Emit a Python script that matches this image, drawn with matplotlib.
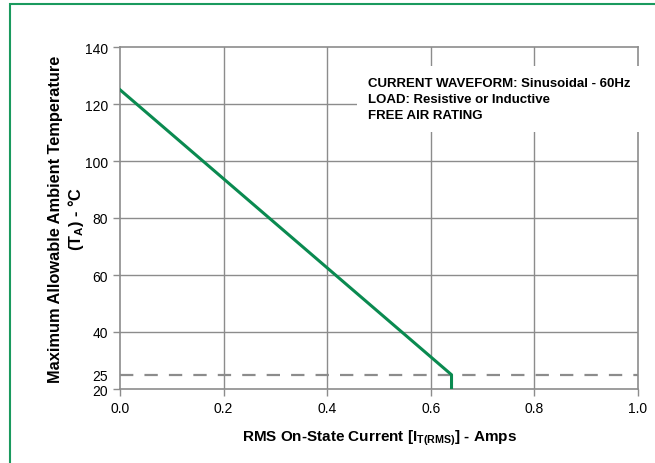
import matplotlib.pyplot as plt
from matplotlib.patches import Rectangle

# derating curve: max ambient temperature vs RMS on-state current
current = [0.0, 0.64, 0.64]
temp = [125, 25, 20]

ref_level = 25
x_ticks = [0.0, 0.2, 0.4, 0.6, 0.8, 1.0]
y_ticks = [20, 25, 40, 60, 80, 100, 120, 140]
y_grid = [40, 60, 80, 100, 120]

note_lines = ['CURRENT WAVEFORM: Sinusoidal - 60Hz',
              'LOAD: Resistive or Inductive',
              'FREE AIR RATING']

font = ['Liberation Sans', 'DejaVu Sans']
grey = '#8c8c8c'
green = '#0a8a50'


def plot_data():
  fig = plt.figure(figsize=(6.55, 4.64), dpi=100)
  ax = fig.add_axes([120 / 655, 1 - 390 / 464, 518 / 655, 342 / 464])

  # green frame, only top and left edges are visible in the picture
  fig.patches.append(Rectangle((10 / 655, -0.1), 1.0, 1.1 - 5 / 464,
                               transform=fig.transFigure, fill=False,
                               edgecolor='#1a9a5e', linewidth=1.5))

  for yv in y_grid:
    ax.axhline(yv, color=grey, linewidth=1.0, zorder=1)
  for xv in x_ticks[1:-1]:
    ax.axvline(xv, color=grey, linewidth=1.0, zorder=1)
  ax.axhline(ref_level, color=grey, linewidth=1.6, linestyle=(0, (6, 5)), zorder=1)

  ax.plot(current, temp, color=green, linewidth=2.2, zorder=3)

  ax.set_xlim(0, 1.0)
  ax.set_ylim(20, 140)
  ax.set_xticks(x_ticks)
  ax.set_xticklabels(['%.1f' % v for v in x_ticks], family=font, fontsize=10)
  ax.set_yticks(y_ticks)
  ax.set_yticklabels([str(v) for v in y_ticks], family=font, fontsize=10)
  ax.tick_params(colors=grey, labelcolor='black', length=5, width=1.0, direction='out')
  for t in ax.yaxis.get_major_ticks():
    if t.get_loc() == 25:
      t.tick1line.set_visible(False)
  for s in ax.spines.values():
    s.set_color(grey)
    s.set_linewidth(1.2)

  ax.set_xlabel('RMS On-State Current [I$_{\\mathregular{T(RMS)}}$] - Amps',
                family=font, fontsize=11, fontweight='bold')
  ax.xaxis.set_label_coords(0.5, -0.112)
  ax.set_ylabel('Maximum Allowable Ambient Temperature\n(T$_{\\mathregular{A}}$) - \u00b0C',
                family=font, fontsize=11.8, fontweight='bold', linespacing=1.2)
  ax.yaxis.set_label_coords(-0.066, 0.5)

  ax.text(0.478, 0.911, '\n'.join(note_lines), transform=ax.transAxes,
          family=font, fontsize=9.5, fontweight='bold', va='top', ha='left',
          linespacing=1.42, zorder=4,
          bbox=dict(facecolor='white', edgecolor='none', pad=8))

  fig.savefig('out.png', dpi=100)
  plt.close(fig)


def main():
  plot_data()


if __name__ == '__main__':
  main()
